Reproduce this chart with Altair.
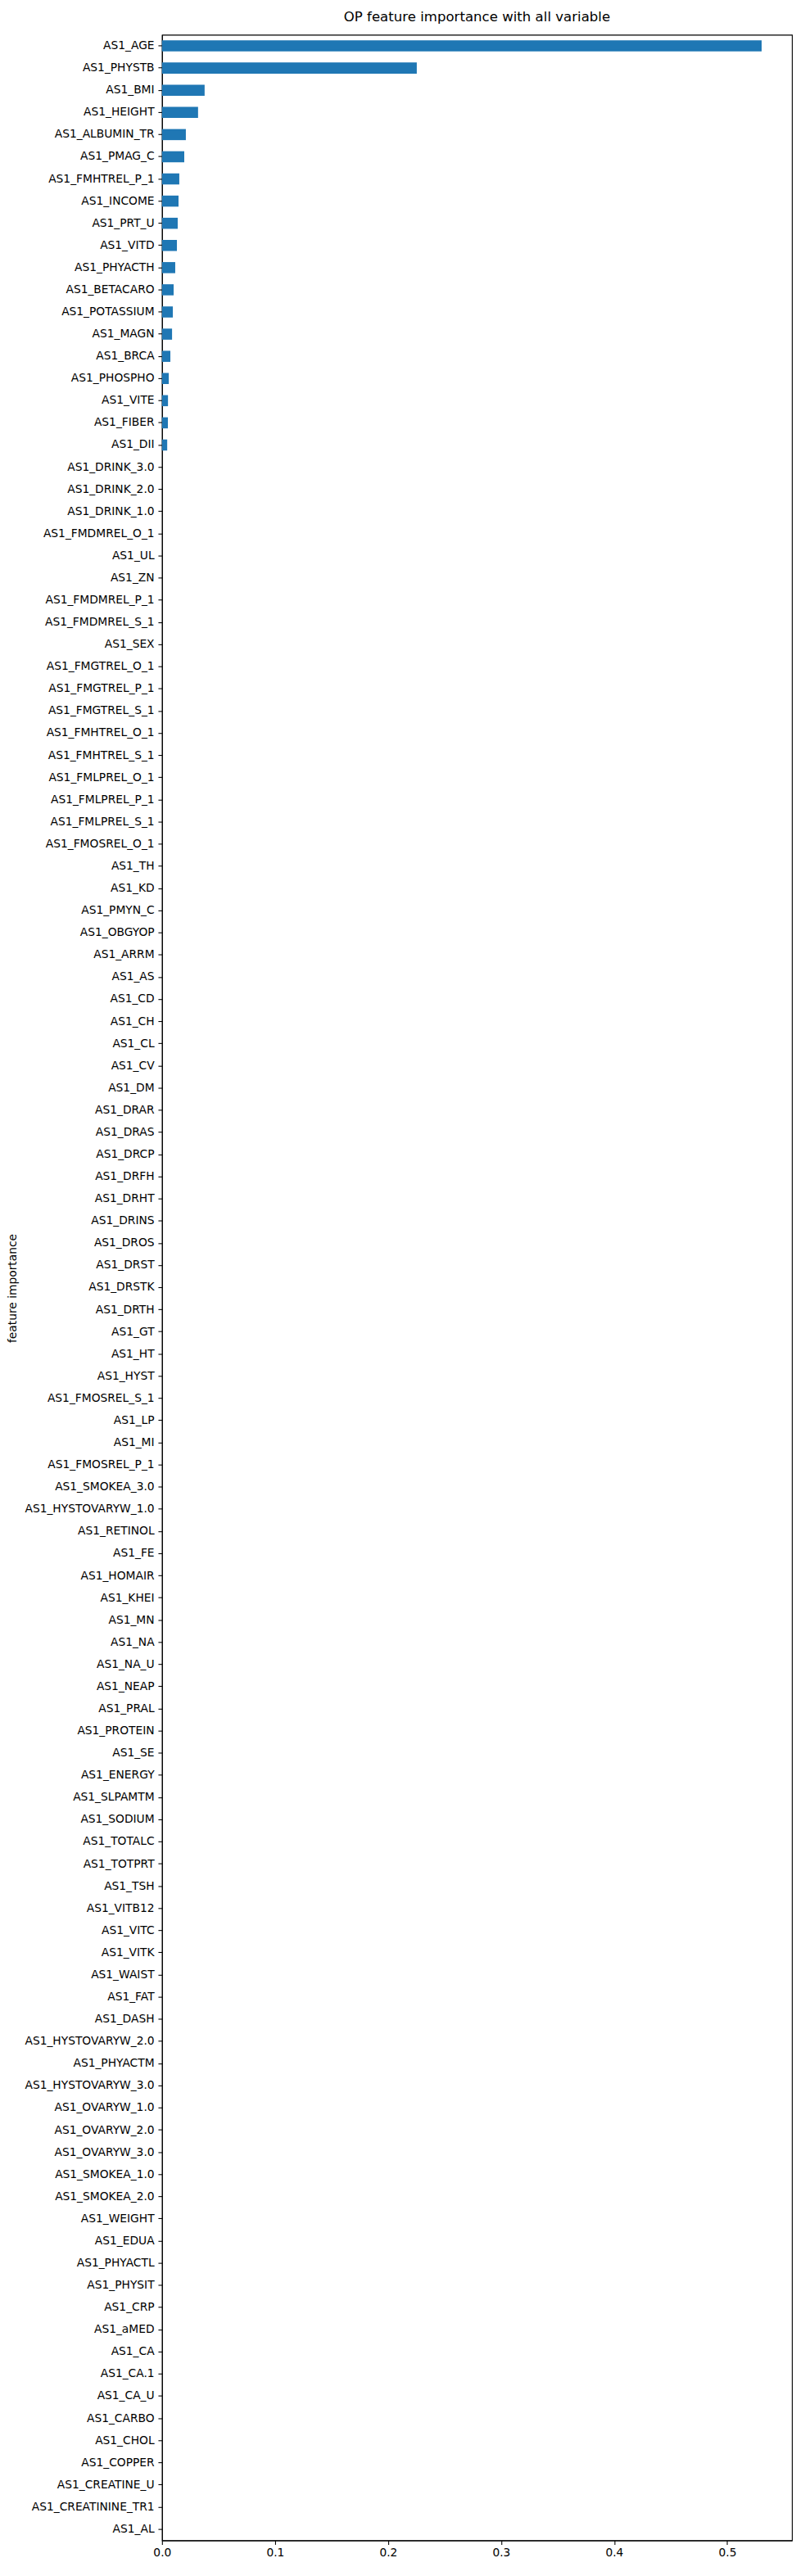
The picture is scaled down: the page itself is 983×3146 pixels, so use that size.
import altair as alt
import pandas as pd

features = [
    "AS1_AGE", "AS1_PHYSTB", "AS1_BMI", "AS1_HEIGHT", "AS1_ALBUMIN_TR", "AS1_PMAG_C",
    "AS1_FMHTREL_P_1", "AS1_INCOME", "AS1_PRT_U", "AS1_VITD", "AS1_PHYACTH", "AS1_BETACARO",
    "AS1_POTASSIUM", "AS1_MAGN", "AS1_BRCA", "AS1_PHOSPHO", "AS1_VITE", "AS1_FIBER", "AS1_DII",
    "AS1_DRINK_3.0", "AS1_DRINK_2.0", "AS1_DRINK_1.0", "AS1_FMDMREL_O_1", "AS1_UL", "AS1_ZN",
    "AS1_FMDMREL_P_1", "AS1_FMDMREL_S_1", "AS1_SEX", "AS1_FMGTREL_O_1", "AS1_FMGTREL_P_1",
    "AS1_FMGTREL_S_1", "AS1_FMHTREL_O_1", "AS1_FMHTREL_S_1", "AS1_FMLPREL_O_1", "AS1_FMLPREL_P_1",
    "AS1_FMLPREL_S_1", "AS1_FMOSREL_O_1", "AS1_TH", "AS1_KD", "AS1_PMYN_C", "AS1_OBGYOP",
    "AS1_ARRM", "AS1_AS", "AS1_CD", "AS1_CH", "AS1_CL", "AS1_CV", "AS1_DM", "AS1_DRAR",
    "AS1_DRAS", "AS1_DRCP", "AS1_DRFH", "AS1_DRHT", "AS1_DRINS", "AS1_DROS", "AS1_DRST",
    "AS1_DRSTK", "AS1_DRTH", "AS1_GT", "AS1_HT", "AS1_HYST", "AS1_FMOSREL_S_1", "AS1_LP",
    "AS1_MI", "AS1_FMOSREL_P_1", "AS1_SMOKEA_3.0", "AS1_HYSTOVARYW_1.0", "AS1_RETINOL",
    "AS1_FE", "AS1_HOMAIR", "AS1_KHEI", "AS1_MN", "AS1_NA", "AS1_NA_U", "AS1_NEAP", "AS1_PRAL",
    "AS1_PROTEIN", "AS1_SE", "AS1_ENERGY", "AS1_SLPAMTM", "AS1_SODIUM", "AS1_TOTALC",
    "AS1_TOTPRT", "AS1_TSH", "AS1_VITB12", "AS1_VITC", "AS1_VITK", "AS1_WAIST", "AS1_FAT",
    "AS1_DASH", "AS1_HYSTOVARYW_2.0", "AS1_PHYACTM", "AS1_HYSTOVARYW_3.0", "AS1_OVARYW_1.0",
    "AS1_OVARYW_2.0", "AS1_OVARYW_3.0", "AS1_SMOKEA_1.0", "AS1_SMOKEA_2.0", "AS1_WEIGHT",
    "AS1_EDUA", "AS1_PHYACTL", "AS1_PHYSIT", "AS1_CRP", "AS1_aMED", "AS1_CA", "AS1_CA.1",
    "AS1_CA_U", "AS1_CARBO", "AS1_CHOL", "AS1_COPPER", "AS1_CREATINE_U", "AS1_CREATININE_TR1",
    "AS1_AL",
]

top_importance = [
    0.5305, 0.2254, 0.0377, 0.0319, 0.0211, 0.0197, 0.0153, 0.0146, 0.0139, 0.0132,
    0.0117, 0.0103, 0.0096, 0.0089, 0.0074, 0.0060, 0.0053, 0.0052, 0.0046,
]
importance = top_importance + [0.0] * (len(features) - len(top_importance))

x_ticks = [0.0, 0.1, 0.2, 0.3, 0.4, 0.5]

df = pd.DataFrame({"feature": features, "importance": importance})

FONT = "DejaVu Sans"

chart = (
    alt.Chart(df)
    .mark_bar(color="#1f77b4")
    .encode(
        x=alt.X(
            "importance:Q",
            scale=alt.Scale(domain=[0, 0.5573], nice=False, zero=True),
            axis=alt.Axis(
                values=x_ticks,
                format=".1f",
                title=None,
                grid=False,
                tickSize=4.9,
                labelPadding=3,
                tickColor="black",
                domainColor="black",
                labelColor="black",
                labelFont=FONT,
                labelFontSize=13.9,
                labelFlush=False,
            ),
        ),
        y=alt.Y(
            "feature:N",
            sort=features,
            scale=alt.Scale(paddingInner=0.5, paddingOuter=0.25),
            axis=alt.Axis(
                title="feature importance",
                titleFont=FONT,
                titleFontSize=13.9,
                titleFontWeight="normal",
                titleColor="black",
                titleX=-183,
                titleY=1540,
                titleBaseline="middle",
                titleAngle=270,
                grid=False,
                tickSize=4.9,
                labelPadding=4.9,
                tickColor="black",
                domainColor="black",
                labelColor="black",
                labelFont=FONT,
                labelFontSize=13.9,
                labelLimit=400,
            ),
        ),
    )
    .properties(
        width=774,
        height=3079,
        title=alt.TitleParams(
            text="OP feature importance with all variable",
            font=FONT,
            fontSize=16.7,
            fontWeight="normal",
            color="black",
            anchor="middle",
            baseline="alphabetic",
            offset=0,
        ),
        autosize=alt.AutoSizeParams(type="none"),
        padding={"left": 191, "top": 25, "right": 8, "bottom": 30},
    )
    .configure_view(stroke="black", strokeWidth=1.1)
    .configure_axis(domainWidth=1.1, tickWidth=1.1)
)

chart.save("out.html", embed_options={"renderer": "svg", "actions": False})
